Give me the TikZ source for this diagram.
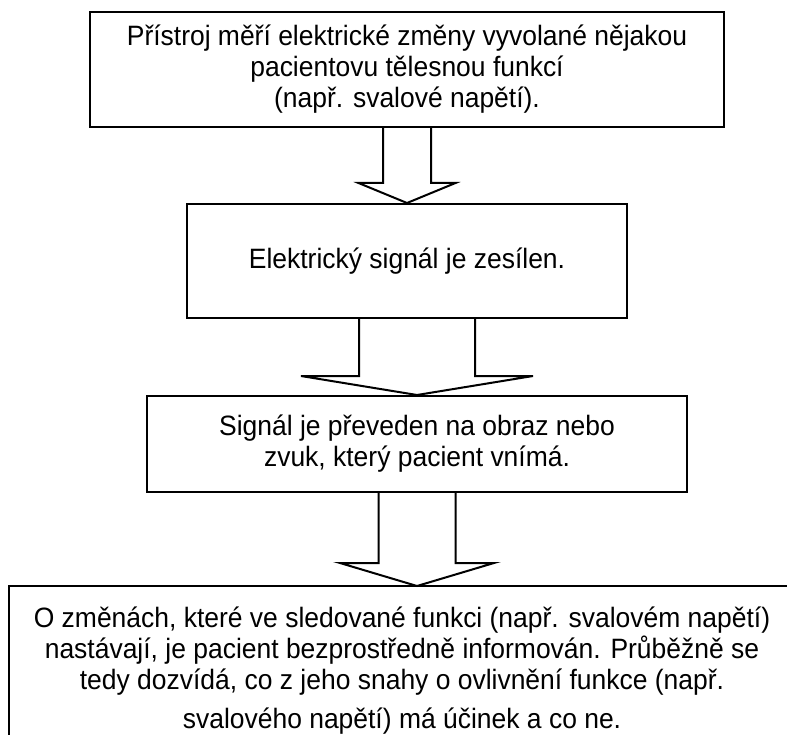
\documentclass[tikz,border=0pt]{standalone}
\usepackage{fontspec}
\setmainfont{Liberation Sans}[FakeStretch=0.945]
\usetikzlibrary{calc}

% hollow block arrow: from node, to node, x centre, shaft half width, head half width, head length
\newcommand{\fatarrow}[6]{%
\coordinate (ft) at (#3,0 |- #1.south);
\coordinate (fb) at (#3,0 |- #2.north);
\draw[arrowline] ($(ft)+(-#4,0)$) -- ($(fb)+(-#4,-#6)$) -- ($(fb)+(-#5,-#6)$) -- (fb)
  -- ($(fb)+(#5,-#6)$) -- ($(fb)+(#4,-#6)$) -- ($(ft)+(#4,0)$);
}

\begin{document}
\begin{tikzpicture}[x=1pt,y=-1pt,
  txt/.style={font=\fontsize{28}{31}\selectfont, align=center},
  box/.style={txt, draw, line width=2pt, inner sep=0pt},
  arrowline/.style={line width=2pt, line join=miter}]
\useasboundingbox (0,0) rectangle (787,735);
\node[box, minimum width=634, minimum height=115] (v1) at (407,69.5) {Přístroj měří elektrické změny vyvolané nějakou\\pacientovu tělesnou funkcí\\(např. svalové napětí).};
\node[box, minimum width=440, minimum height=114] (v2) at (407,261) {Elektrický signál je zesílen.};
\node[box, minimum width=540, minimum height=96] (v3) at (417,444) {Signál je převeden na obraz nebo\\zvuk, který pacient vnímá.};
% last box runs off the page to the right and below
\node[anchor=north west, minimum width=1000, minimum height=200, inner sep=0pt] (v4) at (9,586) {};
\draw[line width=2pt] (v4.south west) -- (v4.north west) -- (v4.north east);
\node[txt] (v5) at (402,671) {O změnách, které ve sledované funkci (např. svalovém napětí)\\nastávají, je pacient bezprostředně informován. Průběžně se\\tedy dozvídá, co z jeho snahy o ovlivnění funkce (např.\\[8pt]svalového napětí) má účinek a co ne.};
\fatarrow{v1}{v2}{407}{24}{48.5}{20}
\fatarrow{v2}{v3}{417}{58}{116}{19}
\fatarrow{v3}{v4}{417}{38.5}{77}{23}
\end{tikzpicture}
\end{document}
